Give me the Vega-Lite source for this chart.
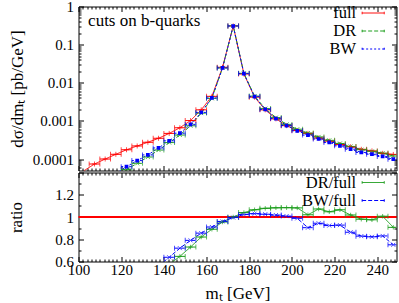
{
  "$schema": "https://vega.github.io/schema/vega-lite/v6.json",
  "padding": {"left": 6.5, "top": -1.5, "right": 2, "bottom": 2},
  "spacing": 0,
  "config": {
    "view": {"stroke": "black", "strokeWidth": 1},
    "font": "Liberation Serif",
    "axis": {"domain": false, "grid": false, "tickColor": "black", "labelColor": "black", "titleColor": "black", "labelFont": "Liberation Serif", "titleFont": "Liberation Serif", "labelFontSize": 15, "titleFontSize": 17, "titleFontWeight": "normal", "tickWidth": 1, "labelOverlap": false, "labelFlush": false},
    "legend": {"labelFont": "Liberation Serif", "labelColor": "black"}
  },
  "datasets": {
    "top": [
      {"m":102.5,"lo":100,"hi":105,"s":"full","v":0.000049},
      {"m":107.5,"lo":105,"hi":110,"s":"full","v":0.000074},
      {"m":112.5,"lo":110,"hi":115,"s":"full","v":0.0001},
      {"m":117.5,"lo":115,"hi":120,"s":"full","v":0.000133},
      {"m":122.5,"lo":120,"hi":125,"s":"full","v":0.000175},
      {"m":127.5,"lo":125,"hi":130,"s":"full","v":0.00022},
      {"m":132.5,"lo":130,"hi":135,"s":"full","v":0.000275},
      {"m":137.5,"lo":135,"hi":140,"s":"full","v":0.00035},
      {"m":142.5,"lo":140,"hi":145,"s":"full","v":0.00047},
      {"m":147.5,"lo":145,"hi":150,"s":"full","v":0.00066},
      {"m":152.5,"lo":150,"hi":155,"s":"full","v":0.00102},
      {"m":157.5,"lo":155,"hi":160,"s":"full","v":0.00195},
      {"m":162.5,"lo":160,"hi":165,"s":"full","v":0.0044},
      {"m":167.5,"lo":165,"hi":170,"s":"full","v":0.0255},
      {"m":172.5,"lo":170,"hi":175,"s":"full","v":0.31},
      {"m":177.5,"lo":175,"hi":180,"s":"full","v":0.017},
      {"m":182.5,"lo":180,"hi":185,"s":"full","v":0.0042},
      {"m":187.5,"lo":185,"hi":190,"s":"full","v":0.00195},
      {"m":192.5,"lo":190,"hi":195,"s":"full","v":0.00113},
      {"m":197.5,"lo":195,"hi":200,"s":"full","v":0.00075},
      {"m":202.5,"lo":200,"hi":205,"s":"full","v":0.00056},
      {"m":207.5,"lo":205,"hi":210,"s":"full","v":0.00047},
      {"m":212.5,"lo":210,"hi":215,"s":"full","v":0.000355},
      {"m":217.5,"lo":215,"hi":220,"s":"full","v":0.000295},
      {"m":222.5,"lo":220,"hi":225,"s":"full","v":0.00024},
      {"m":227.5,"lo":225,"hi":230,"s":"full","v":0.00021},
      {"m":232.5,"lo":230,"hi":235,"s":"full","v":0.00018},
      {"m":237.5,"lo":235,"hi":240,"s":"full","v":0.000163},
      {"m":242.5,"lo":240,"hi":245,"s":"full","v":0.000141},
      {"m":247.5,"lo":245,"hi":250,"s":"full","v":0.000132},
      {"m":117.5,"lo":115,"hi":120,"s":"DR","v":0.000035},
      {"m":122.5,"lo":120,"hi":125,"s":"DR","v":0.000053},
      {"m":127.5,"lo":125,"hi":130,"s":"DR","v":0.000077},
      {"m":132.5,"lo":130,"hi":135,"s":"DR","v":0.000113},
      {"m":137.5,"lo":135,"hi":140,"s":"DR","v":0.000172},
      {"m":142.5,"lo":140,"hi":145,"s":"DR","v":0.00027},
      {"m":147.5,"lo":145,"hi":150,"s":"DR","v":0.000426},
      {"m":152.5,"lo":150,"hi":155,"s":"DR","v":0.000745},
      {"m":157.5,"lo":155,"hi":160,"s":"DR","v":0.0016},
      {"m":162.5,"lo":160,"hi":165,"s":"DR","v":0.0039},
      {"m":167.5,"lo":165,"hi":170,"s":"DR","v":0.0244},
      {"m":172.5,"lo":170,"hi":175,"s":"DR","v":0.31},
      {"m":177.5,"lo":175,"hi":180,"s":"DR","v":0.0177},
      {"m":182.5,"lo":180,"hi":185,"s":"DR","v":0.00447},
      {"m":187.5,"lo":185,"hi":190,"s":"DR","v":0.0021},
      {"m":192.5,"lo":190,"hi":195,"s":"DR","v":0.00122},
      {"m":197.5,"lo":195,"hi":200,"s":"DR","v":0.00081},
      {"m":202.5,"lo":200,"hi":205,"s":"DR","v":0.000605},
      {"m":207.5,"lo":205,"hi":210,"s":"DR","v":0.00048},
      {"m":212.5,"lo":210,"hi":215,"s":"DR","v":0.00038},
      {"m":217.5,"lo":215,"hi":220,"s":"DR","v":0.000309},
      {"m":222.5,"lo":220,"hi":225,"s":"DR","v":0.000256},
      {"m":227.5,"lo":225,"hi":230,"s":"DR","v":0.000214},
      {"m":232.5,"lo":230,"hi":235,"s":"DR","v":0.000176},
      {"m":237.5,"lo":235,"hi":240,"s":"DR","v":0.000159},
      {"m":242.5,"lo":240,"hi":245,"s":"DR","v":0.000142},
      {"m":247.5,"lo":245,"hi":250,"s":"DR","v":0.00012},
      {"m":117.5,"lo":115,"hi":120,"s":"BW","v":0.000042},
      {"m":122.5,"lo":120,"hi":125,"s":"BW","v":0.000063},
      {"m":127.5,"lo":125,"hi":130,"s":"BW","v":0.000091},
      {"m":132.5,"lo":130,"hi":135,"s":"BW","v":0.000128},
      {"m":137.5,"lo":135,"hi":140,"s":"BW","v":0.000195},
      {"m":142.5,"lo":140,"hi":145,"s":"BW","v":0.0003},
      {"m":147.5,"lo":145,"hi":150,"s":"BW","v":0.000475},
      {"m":152.5,"lo":150,"hi":155,"s":"BW","v":0.00081},
      {"m":157.5,"lo":155,"hi":160,"s":"BW","v":0.00167},
      {"m":162.5,"lo":160,"hi":165,"s":"BW","v":0.004},
      {"m":167.5,"lo":165,"hi":170,"s":"BW","v":0.0245},
      {"m":172.5,"lo":170,"hi":175,"s":"BW","v":0.308},
      {"m":177.5,"lo":175,"hi":180,"s":"BW","v":0.0174},
      {"m":182.5,"lo":180,"hi":185,"s":"BW","v":0.00433},
      {"m":187.5,"lo":185,"hi":190,"s":"BW","v":0.002},
      {"m":192.5,"lo":190,"hi":195,"s":"BW","v":0.00115},
      {"m":197.5,"lo":195,"hi":200,"s":"BW","v":0.000755},
      {"m":202.5,"lo":200,"hi":205,"s":"BW","v":0.00055},
      {"m":207.5,"lo":205,"hi":210,"s":"BW","v":0.000425},
      {"m":212.5,"lo":210,"hi":215,"s":"BW","v":0.000335},
      {"m":217.5,"lo":215,"hi":220,"s":"BW","v":0.000272},
      {"m":222.5,"lo":220,"hi":225,"s":"BW","v":0.000222},
      {"m":227.5,"lo":225,"hi":230,"s":"BW","v":0.000181},
      {"m":232.5,"lo":230,"hi":235,"s":"BW","v":0.000149},
      {"m":237.5,"lo":235,"hi":240,"s":"BW","v":0.000134},
      {"m":242.5,"lo":240,"hi":245,"s":"BW","v":0.000117},
      {"m":247.5,"lo":245,"hi":250,"s":"BW","v":0.000099}
    ],
    "ratio": [
      {"m":142.5,"lo":140,"hi":145,"s":"DR/full","r":0.575},
      {"m":147.5,"lo":145,"hi":150,"s":"DR/full","r":0.646},
      {"m":152.5,"lo":150,"hi":155,"s":"DR/full","r":0.73},
      {"m":157.5,"lo":155,"hi":160,"s":"DR/full","r":0.82},
      {"m":162.5,"lo":160,"hi":165,"s":"DR/full","r":0.89},
      {"m":167.5,"lo":165,"hi":170,"s":"DR/full","r":0.955},
      {"m":172.5,"lo":170,"hi":175,"s":"DR/full","r":1.0},
      {"m":177.5,"lo":175,"hi":180,"s":"DR/full","r":1.04},
      {"m":182.5,"lo":180,"hi":185,"s":"DR/full","r":1.065},
      {"m":187.5,"lo":185,"hi":190,"s":"DR/full","r":1.078},
      {"m":192.5,"lo":190,"hi":195,"s":"DR/full","r":1.083},
      {"m":197.5,"lo":195,"hi":200,"s":"DR/full","r":1.084},
      {"m":202.5,"lo":200,"hi":205,"s":"DR/full","r":1.082},
      {"m":207.5,"lo":205,"hi":210,"s":"DR/full","r":1.02},
      {"m":212.5,"lo":210,"hi":215,"s":"DR/full","r":1.072},
      {"m":217.5,"lo":215,"hi":220,"s":"DR/full","r":1.047},
      {"m":222.5,"lo":220,"hi":225,"s":"DR/full","r":1.065},
      {"m":227.5,"lo":225,"hi":230,"s":"DR/full","r":1.018},
      {"m":232.5,"lo":230,"hi":235,"s":"DR/full","r":0.98},
      {"m":237.5,"lo":235,"hi":240,"s":"DR/full","r":0.975},
      {"m":242.5,"lo":240,"hi":245,"s":"DR/full","r":1.007},
      {"m":247.5,"lo":245,"hi":250,"s":"DR/full","r":0.907},
      {"m":137.5,"lo":135,"hi":140,"s":"BW/full","r":0.56},
      {"m":142.5,"lo":140,"hi":145,"s":"BW/full","r":0.638},
      {"m":147.5,"lo":145,"hi":150,"s":"BW/full","r":0.72},
      {"m":152.5,"lo":150,"hi":155,"s":"BW/full","r":0.79},
      {"m":157.5,"lo":155,"hi":160,"s":"BW/full","r":0.855},
      {"m":162.5,"lo":160,"hi":165,"s":"BW/full","r":0.91},
      {"m":167.5,"lo":165,"hi":170,"s":"BW/full","r":0.96},
      {"m":172.5,"lo":170,"hi":175,"s":"BW/full","r":0.995},
      {"m":177.5,"lo":175,"hi":180,"s":"BW/full","r":1.022},
      {"m":182.5,"lo":180,"hi":185,"s":"BW/full","r":1.03},
      {"m":187.5,"lo":185,"hi":190,"s":"BW/full","r":1.025},
      {"m":192.5,"lo":190,"hi":195,"s":"BW/full","r":1.017},
      {"m":197.5,"lo":195,"hi":200,"s":"BW/full","r":1.008},
      {"m":202.5,"lo":200,"hi":205,"s":"BW/full","r":0.988},
      {"m":207.5,"lo":205,"hi":210,"s":"BW/full","r":0.904},
      {"m":212.5,"lo":210,"hi":215,"s":"BW/full","r":0.944},
      {"m":217.5,"lo":215,"hi":220,"s":"BW/full","r":0.923},
      {"m":222.5,"lo":220,"hi":225,"s":"BW/full","r":0.927},
      {"m":227.5,"lo":225,"hi":230,"s":"BW/full","r":0.863},
      {"m":232.5,"lo":230,"hi":235,"s":"BW/full","r":0.828},
      {"m":237.5,"lo":235,"hi":240,"s":"BW/full","r":0.822},
      {"m":242.5,"lo":240,"hi":245,"s":"BW/full","r":0.83},
      {"m":247.5,"lo":245,"hi":250,"s":"BW/full","r":0.75}
    ]
  },
  "vconcat": [
    {
      "width": 318,
      "height": 164,
      "data": {"name": "top"},
      "layer": [
        {
          "mark": {"type": "line", "strokeWidth": 1, "clip": true},
          "encoding": {
            "x": {"field": "m", "type": "quantitative", "scale": {"domain": [100, 249], "nice": false, "zero": false},
              "axis": {"orient": "bottom", "title": null, "labels": false, "minExtent": 0, "maxExtent": 0, "values": [100,102,104,106,108,110,112,114,116,118,120,122,124,126,128,130,132,134,136,138,140,142,144,146,148,150,152,154,156,158,160,162,164,166,168,170,172,174,176,178,180,182,184,186,188,190,192,194,196,198,200,202,204,206,208,210,212,214,216,218,220,222,224,226,228,230,232,234,236,238,240,242,244,246,248],
                "tickSize": {"condition": {"test": "datum.value % 20 === 0", "value": -5}, "value": -2.5}}},
            "y": {"field": "v", "type": "quantitative", "scale": {"type": "log", "domain": [0.00005, 1], "nice": false},
              "axis": {"orient": "left", "title": "dσ/dmₜ [pb/GeV]", "titlePadding": 6, "labelPadding": 10, "format": "~g",
                "values": [0.00006,0.00007,0.00008,0.00009,0.0001,0.0002,0.0003,0.0004,0.0005,0.0006,0.0007,0.0008,0.0009,0.001,0.002,0.003,0.004,0.005,0.006,0.007,0.008,0.009,0.01,0.02,0.03,0.04,0.05,0.06,0.07,0.08,0.09,0.1,0.2,0.3,0.4,0.5,0.6,0.7,0.8,0.9,1],
                "labelExpr": "abs(log(datum.value)/LN10 - round(log(datum.value)/LN10)) < 0.001 ? datum.label : ''",
                "labelFontSize": {"condition": {"test": "abs(log(datum.value)/LN10 - round(log(datum.value)/LN10)) < 0.001", "value": 15}, "value": 0},
                "tickSize": {"condition": {"test": "abs(log(datum.value)/LN10 - round(log(datum.value)/LN10)) < 0.001", "value": -5}, "value": -2.5}}},
            "color": {"field": "s", "type": "nominal", "scale": {"domain": ["full", "DR", "BW"], "range": ["#ff0000", "#1e9e1e", "#0000ff"]},
              "legend": {"orient": "none", "legendX": 285.7, "legendY": -2.5, "title": null, "padding": 0, "symbolType": "M-1.3,0H1.3M-1.3,-0.15V0.15M1.3,-0.15V0.15", "symbolSize": 289, "symbolStrokeWidth": 1, "labelAlign": "right", "labelOffset": -26, "labelFontSize": 16.5, "rowPadding": -1.5}},
            "strokeDash": {"field": "s", "type": "nominal", "scale": {"domain": ["full", "DR", "BW"], "range": [[1, 0], [4, 2], [2, 2]]},
              "legend": {"orient": "none", "legendX": 285.7, "legendY": -2.5, "title": null, "padding": 0, "symbolType": "M-1.3,0H1.3M-1.3,-0.15V0.15M1.3,-0.15V0.15", "symbolSize": 289, "symbolStrokeWidth": 1, "labelAlign": "right", "labelOffset": -26, "labelFontSize": 16.5, "rowPadding": -1.5}}
          }
        },
        {
          "transform": [{"filter": "datum.s === 'full' && datum.v >= 0.00005"}],
          "mark": {"type": "errorbar", "color": "#ff0000", "clip": true, "ticks": {"size": 5}},
          "encoding": {
            "x": {"field": "lo", "type": "quantitative",
              "axis": {"orient": "top", "title": null, "labels": false, "minExtent": 0, "maxExtent": 0, "values": [100,102,104,106,108,110,112,114,116,118,120,122,124,126,128,130,132,134,136,138,140,142,144,146,148,150,152,154,156,158,160,162,164,166,168,170,172,174,176,178,180,182,184,186,188,190,192,194,196,198,200,202,204,206,208,210,212,214,216,218,220,222,224,226,228,230,232,234,236,238,240,242,244,246,248],
                "tickSize": {"condition": {"test": "datum.value % 20 === 0", "value": -5}, "value": -2.5}}},
            "x2": {"field": "hi"},
            "y": {"field": "v", "type": "quantitative",
              "axis": {"orient": "right", "title": null, "labels": false, "minExtent": 0, "maxExtent": 0,
                "values": [0.00006,0.00007,0.00008,0.00009,0.0001,0.0002,0.0003,0.0004,0.0005,0.0006,0.0007,0.0008,0.0009,0.001,0.002,0.003,0.004,0.005,0.006,0.007,0.008,0.009,0.01,0.02,0.03,0.04,0.05,0.06,0.07,0.08,0.09,0.1,0.2,0.3,0.4,0.5,0.6,0.7,0.8,0.9,1],
                "tickSize": {"condition": {"test": "abs(log(datum.value)/LN10 - round(log(datum.value)/LN10)) < 0.001", "value": -5}, "value": -2.5}}}
          }
        },
        {
          "transform": [{"filter": "datum.s === 'DR' && datum.v >= 0.00005"}],
          "mark": {"type": "errorbar", "color": "#1e9e1e", "clip": true, "ticks": {"size": 5}, "rule": {"strokeDash": [4, 2]}},
          "encoding": {
            "x": {"field": "lo", "type": "quantitative", "axis": null},
            "x2": {"field": "hi"},
            "y": {"field": "v", "type": "quantitative", "axis": null}
          }
        },
        {
          "transform": [{"filter": "datum.s === 'BW' && datum.v >= 0.00005"}],
          "mark": {"type": "errorbar", "color": "#0000ff", "clip": true, "ticks": {"size": 5}, "rule": {"strokeDash": [2, 2]}},
          "encoding": {
            "x": {"field": "lo", "type": "quantitative", "axis": null},
            "x2": {"field": "hi"},
            "y": {"field": "v", "type": "quantitative", "axis": null}
          }
        },
        {
          "transform": [{"filter": "datum.s === 'full' && datum.v >= 0.00005"}],
          "mark": {"type": "point", "shape": "M-1,0H1M0,-1V1", "size": 25, "filled": false, "stroke": "#ff0000", "strokeWidth": 1, "clip": true},
          "encoding": {
            "x": {"field": "m", "type": "quantitative", "axis": null},
            "y": {"field": "v", "type": "quantitative", "axis": null}
          }
        },
        {
          "transform": [{"filter": "datum.s === 'DR' && datum.v >= 0.00005"}],
          "mark": {"type": "point", "shape": "M-1,-1L1,1M-1,1L1,-1", "size": 16, "filled": false, "stroke": "#1e9e1e", "strokeWidth": 1, "clip": true},
          "encoding": {
            "x": {"field": "m", "type": "quantitative", "axis": null},
            "y": {"field": "v", "type": "quantitative", "axis": null}
          }
        },
        {
          "transform": [{"filter": "datum.s === 'BW' && datum.v >= 0.00005"}],
          "mark": {"type": "point", "shape": "square", "size": 14, "filled": true, "fill": "#0000ff", "opacity": 1, "clip": true},
          "encoding": {
            "x": {"field": "m", "type": "quantitative", "axis": null},
            "y": {"field": "v", "type": "quantitative", "axis": null}
          }
        },
        {
          "data": {"values": [{"label": "cuts on b-quarks"}]},
          "mark": {"type": "text", "align": "left", "baseline": "middle", "fontSize": 17, "font": "Liberation Serif", "color": "black"},
          "encoding": {
            "x": {"datum": 104.5, "type": "quantitative", "axis": null},
            "y": {"datum": 0.41, "type": "quantitative", "axis": null},
            "text": {"field": "label"}
          }
        }
      ],
      "resolve": {"axis": {"x": "independent", "y": "independent"}}
    },
    {
      "width": 318,
      "height": 89,
      "data": {"name": "ratio"},
      "layer": [
        {
          "data": {"values": [{"one": 1}]},
          "mark": {"type": "rule", "color": "#ff0000", "strokeWidth": 2},
          "encoding": {
            "y": {"field": "one", "type": "quantitative", "axis": null}
          }
        },
        {
          "mark": {"type": "line", "strokeWidth": 1, "clip": true},
          "encoding": {
            "x": {"field": "m", "type": "quantitative", "scale": {"domain": [100, 249], "nice": false, "zero": false},
              "axis": {"orient": "bottom", "title": "mₜ [GeV]", "titlePadding": 7.5, "labelPadding": 6, "values": [100,102,104,106,108,110,112,114,116,118,120,122,124,126,128,130,132,134,136,138,140,142,144,146,148,150,152,154,156,158,160,162,164,166,168,170,172,174,176,178,180,182,184,186,188,190,192,194,196,198,200,202,204,206,208,210,212,214,216,218,220,222,224,226,228,230,232,234,236,238,240,242,244,246,248],
                "labelExpr": "datum.value % 20 === 0 ? datum.label : ''",
                "labelFontSize": {"condition": {"test": "datum.value % 20 === 0", "value": 15}, "value": 0},
                "tickSize": {"condition": {"test": "datum.value % 20 === 0", "value": -5}, "value": -2.5}}},
            "y": {"field": "r", "type": "quantitative", "scale": {"domain": [0.6, 1.4], "nice": false, "zero": false},
              "axis": {"orient": "left", "title": "ratio", "titlePadding": 29, "labelPadding": 10, "format": "~g",
                "values": [0.6, 0.7, 0.8, 0.9, 1, 1.1, 1.2, 1.3, 1.4],
                "labelExpr": "abs(datum.value*5 - round(datum.value*5)) < 0.001 && datum.value < 1.35 ? datum.label : ''",
                "labelFontSize": {"condition": {"test": "abs(datum.value*5 - round(datum.value*5)) < 0.001 && datum.value < 1.35", "value": 15}, "value": 0},
                "tickSize": {"condition": {"test": "abs(datum.value*5 - round(datum.value*5)) < 0.001", "value": -5}, "value": -2.5}}},
            "color": {"field": "s", "type": "nominal", "scale": {"domain": ["DR/full", "BW/full"], "range": ["#1e9e1e", "#0000ff"]},
              "legend": {"orient": "none", "legendX": 285.7, "legendY": 1, "title": null, "padding": 0, "symbolType": "M-1.3,0H1.3M-1.3,-0.15V0.15M1.3,-0.15V0.15", "symbolSize": 289, "symbolStrokeWidth": 1, "labelAlign": "right", "labelOffset": -26, "labelFontSize": 16.5, "rowPadding": -1.5}},
            "strokeDash": {"field": "s", "type": "nominal", "scale": {"domain": ["DR/full", "BW/full"], "range": [[1, 0], [4, 2]]},
              "legend": {"orient": "none", "legendX": 285.7, "legendY": 1, "title": null, "padding": 0, "symbolType": "M-1.3,0H1.3M-1.3,-0.15V0.15M1.3,-0.15V0.15", "symbolSize": 289, "symbolStrokeWidth": 1, "labelAlign": "right", "labelOffset": -26, "labelFontSize": 16.5, "rowPadding": -1.5}}
          }
        },
        {
          "transform": [{"filter": "datum.s === 'DR/full' && datum.r >= 0.6"}],
          "mark": {"type": "errorbar", "color": "#1e9e1e", "clip": true, "ticks": {"size": 5}},
          "encoding": {
            "x": {"field": "lo", "type": "quantitative",
              "axis": {"orient": "top", "title": null, "labels": false, "minExtent": 0, "maxExtent": 0, "values": [100,102,104,106,108,110,112,114,116,118,120,122,124,126,128,130,132,134,136,138,140,142,144,146,148,150,152,154,156,158,160,162,164,166,168,170,172,174,176,178,180,182,184,186,188,190,192,194,196,198,200,202,204,206,208,210,212,214,216,218,220,222,224,226,228,230,232,234,236,238,240,242,244,246,248],
                "tickSize": {"condition": {"test": "datum.value % 20 === 0", "value": -5}, "value": -2.5}}},
            "x2": {"field": "hi"},
            "y": {"field": "r", "type": "quantitative",
              "axis": {"orient": "right", "title": null, "labels": false, "minExtent": 0, "maxExtent": 0,
                "values": [0.6, 0.7, 0.8, 0.9, 1, 1.1, 1.2, 1.3, 1.4],
                "tickSize": {"condition": {"test": "abs(datum.value*5 - round(datum.value*5)) < 0.001", "value": -5}, "value": -2.5}}}
          }
        },
        {
          "transform": [{"filter": "datum.s === 'BW/full' && datum.r >= 0.6"}],
          "mark": {"type": "errorbar", "color": "#0000ff", "clip": true, "ticks": {"size": 5}, "rule": {"strokeDash": [4, 2]}},
          "encoding": {
            "x": {"field": "lo", "type": "quantitative", "axis": null},
            "x2": {"field": "hi"},
            "y": {"field": "r", "type": "quantitative", "axis": null}
          }
        },
        {
          "transform": [{"filter": "datum.s === 'DR/full' && datum.r >= 0.6"}],
          "mark": {"type": "point", "shape": "M-1,0H1M0,-1V1", "size": 20, "filled": false, "stroke": "#1e9e1e", "strokeWidth": 1, "clip": true},
          "encoding": {
            "x": {"field": "m", "type": "quantitative", "axis": null},
            "y": {"field": "r", "type": "quantitative", "axis": null}
          }
        },
        {
          "transform": [{"filter": "datum.s === 'BW/full' && datum.r >= 0.6"}],
          "mark": {"type": "point", "shape": "M-1,-1L1,1M-1,1L1,-1", "size": 16, "filled": false, "stroke": "#0000ff", "strokeWidth": 1, "clip": true},
          "encoding": {
            "x": {"field": "m", "type": "quantitative", "axis": null},
            "y": {"field": "r", "type": "quantitative", "axis": null}
          }
        }
      ],
      "resolve": {"axis": {"x": "independent", "y": "independent"}}
    }
  ],
  "resolve": {"scale": {"x": "independent", "y": "independent", "color": "independent", "strokeDash": "independent"}}
}
